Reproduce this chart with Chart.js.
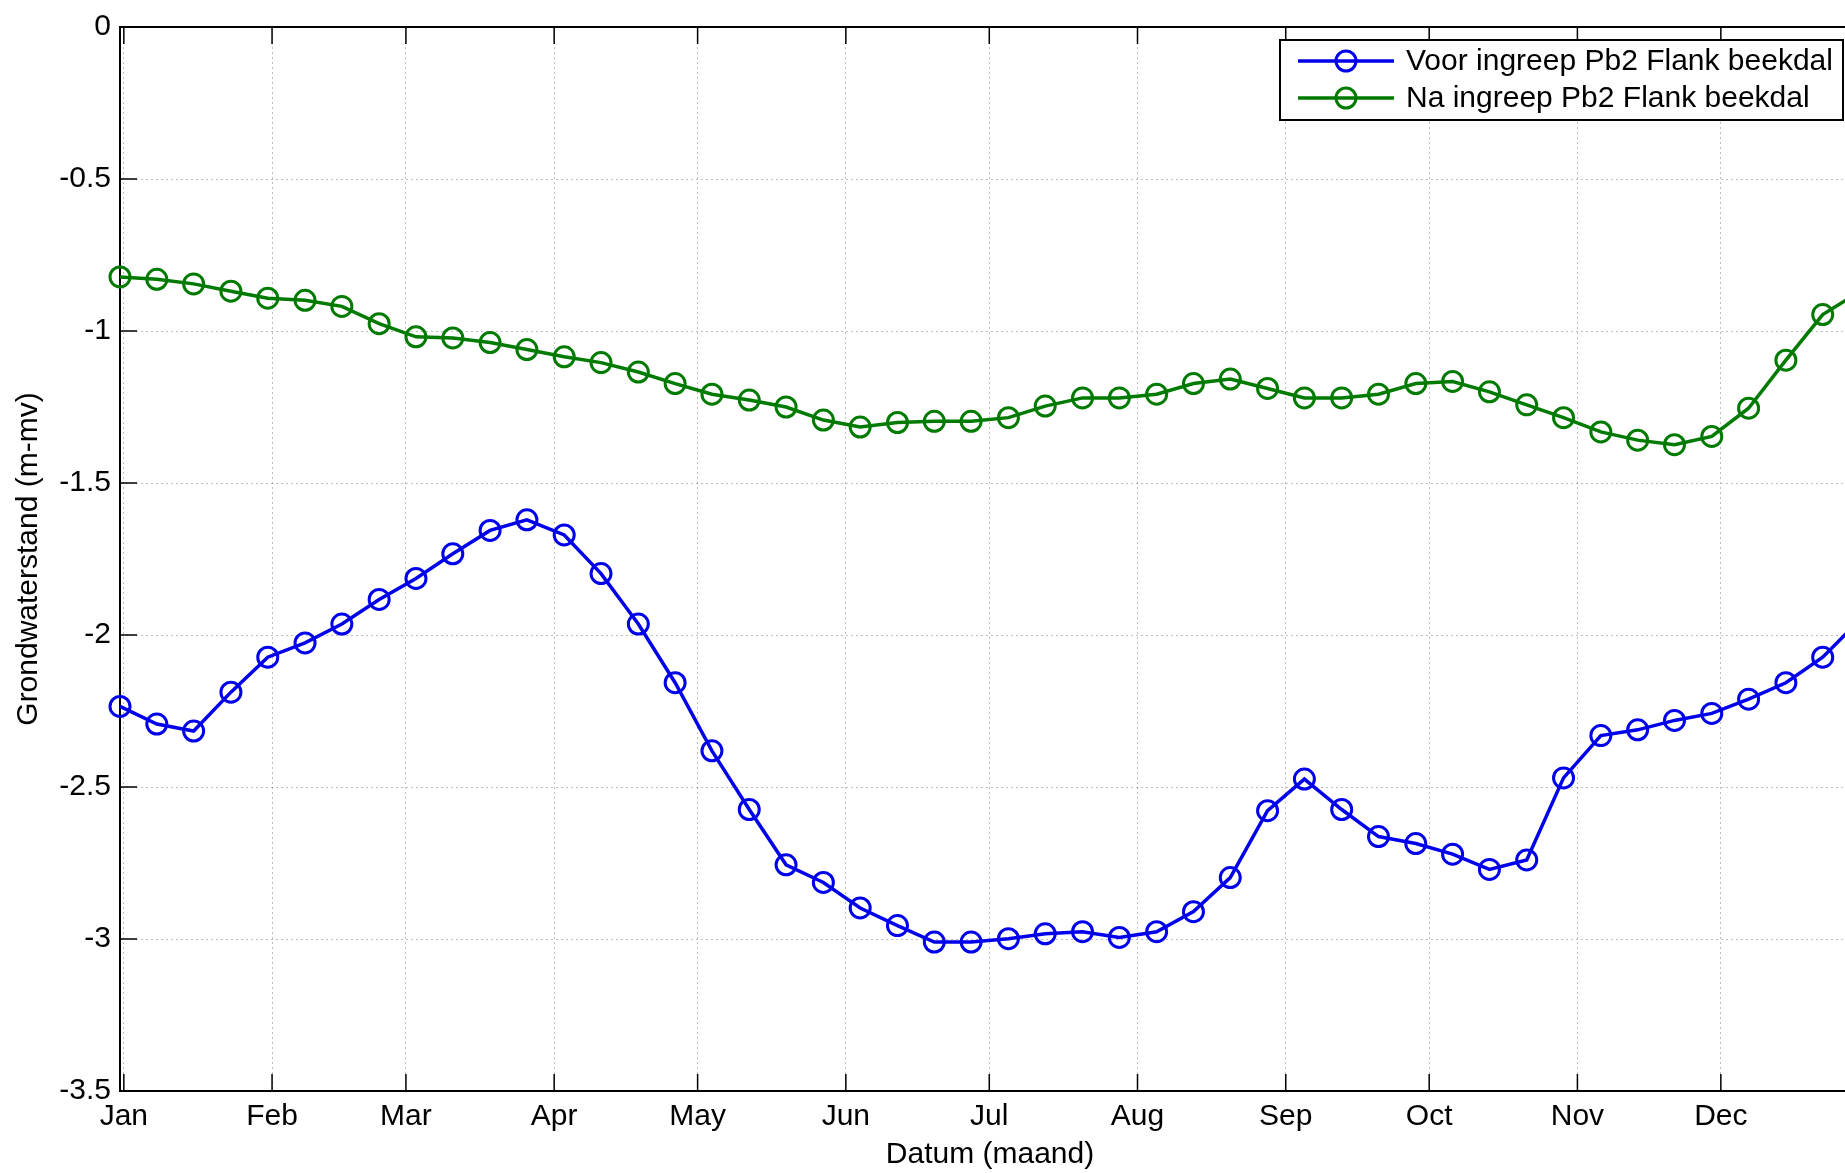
<!DOCTYPE html>
<html>
<head>
<meta charset="utf-8">
<title>Grondwaterstand</title>
<script src="https://cdn.jsdelivr.net/npm/chart.js@4.4.0/dist/chart.umd.min.js"></script>
<style>
html, body { margin: 0; padding: 0; background: #fff; overflow: hidden; }
#wrap { width: 1845px; height: 1173px; overflow: hidden; }
</style>
</head>
<body>
<div id="wrap"><canvas id="myChart" width="1873" height="1173"></canvas></div>
<script>
// dag in het jaar (1 jan = 0) van elk meetpunt
var dagen = [-0.8, 6.9, 14.6, 22.4, 30.1, 37.9, 45.6, 53.4, 61.1, 68.8, 76.6, 84.3,
             92.1, 99.8, 107.6, 115.3, 123.0, 130.8, 138.5, 146.3, 154.0, 161.8, 169.5, 177.2,
             185.0, 192.7, 200.5, 208.2, 216.0, 223.7, 231.4, 239.2, 246.9, 254.7, 262.4, 270.2,
             277.9, 285.6, 293.4, 301.1, 308.9, 316.6, 324.3, 332.1, 339.8, 347.6, 355.3, 363.1];

// grondwaterstand (m-mv)
var voor = [-2.235, -2.293, -2.316, -2.188, -2.073, -2.026, -1.964, -1.883, -1.814, -1.733, -1.656, -1.621,
            -1.671, -1.798, -1.964, -2.157, -2.381, -2.574, -2.756, -2.814, -2.898, -2.956, -3.010, -3.010,
            -2.999, -2.983, -2.976, -2.995, -2.976, -2.910, -2.798, -2.578, -2.474, -2.574, -2.663, -2.686,
            -2.721, -2.771, -2.740, -2.470, -2.331, -2.312, -2.281, -2.258, -2.211, -2.157, -2.073, -1.95];
var na = [-0.822, -0.830, -0.845, -0.869, -0.892, -0.899, -0.919, -0.976, -1.019, -1.023, -1.038, -1.061,
          -1.085, -1.104, -1.135, -1.173, -1.208, -1.227, -1.250, -1.293, -1.316, -1.301, -1.297, -1.297,
          -1.285, -1.247, -1.220, -1.220, -1.208, -1.173, -1.158, -1.189, -1.220, -1.220, -1.208, -1.173,
          -1.166, -1.200, -1.243, -1.285, -1.332, -1.359, -1.374, -1.347, -1.254, -1.096, -0.946, -0.87];

var maandStart = [0, 31, 59, 90, 120, 151, 181, 212, 243, 273, 304, 334];
var maanden = ["Jan", "Feb", "Mar", "Apr", "May", "Jun", "Jul", "Aug", "Sep", "Oct", "Nov", "Dec"];

var labelVoor = "Voor ingreep Pb2 Flank beekdal";
var labelNa = "Na ingreep Pb2 Flank beekdal";

function punten(ys) {
  var out = [];
  for (var i = 0; i < ys.length; i++) out.push({x: dagen[i], y: ys[i]});
  return out;
}

Chart.defaults.font.family = "'Liberation Sans', Arial, sans-serif";
Chart.defaults.font.size = 30;
Chart.defaults.color = '#000';

// matlab-achtige box, ticks naar binnen en legenda
var matlabBox = {
  id: 'matlabBox',
  afterDraw: function(chart) {
    var ctx = chart.ctx, a = chart.chartArea;
    var xs = chart.scales.x, ys = chart.scales.y;
    ctx.save();
    ctx.strokeStyle = '#000';
    ctx.lineWidth = 2;
    ctx.beginPath();
    ctx.moveTo(a.left, a.top);
    ctx.lineTo(a.right, a.top);
    ctx.lineTo(a.right, a.bottom);
    ctx.stroke();

    ctx.lineWidth = 1.5;
    maandStart.forEach(function(d) {
      var px = xs.getPixelForValue(d);
      ctx.beginPath();
      ctx.moveTo(px, a.bottom); ctx.lineTo(px, a.bottom - 17);
      ctx.moveTo(px, a.top); ctx.lineTo(px, a.top + 17);
      ctx.stroke();
    });
    ys.ticks.forEach(function(t) {
      var py = ys.getPixelForValue(t.value);
      ctx.beginPath();
      ctx.moveTo(a.left, py); ctx.lineTo(a.left + 17, py);
      ctx.stroke();
    });

    // legenda
    var lx = 1280, ly = 40, lw = 563, lh = 80;
    ctx.fillStyle = '#fff';
    ctx.fillRect(lx, ly, lw, lh);
    ctx.lineWidth = 2;
    ctx.strokeRect(lx, ly, lw, lh);
    ctx.font = "30px 'Liberation Sans', Arial, sans-serif";
    ctx.textBaseline = 'middle';
    ctx.textAlign = 'left';
    chart.data.datasets.forEach(function(ds, i) {
      var ry = ly + 21 + i * 37;
      ctx.strokeStyle = ds.borderColor;
      ctx.lineWidth = 3.5;
      ctx.beginPath();
      ctx.moveTo(lx + 18, ry); ctx.lineTo(lx + 114, ry);
      ctx.stroke();
      ctx.lineWidth = 3;
      ctx.beginPath();
      ctx.arc(lx + 66, ry, 10, 0, Math.PI * 2);
      ctx.stroke();
      ctx.fillStyle = '#000';
      ctx.fillText(ds.label, lx + 126, ry + 1);
    });
    ctx.restore();
  }
};

var ctx = document.getElementById('myChart');
var chart = new Chart(ctx, {
  type: 'line',
  data: {
    datasets: [{
      label: labelVoor,
      data: punten(voor),
      borderColor: 'rgb(0, 0, 235)',
      backgroundColor: 'rgba(0,0,0,0)',
      borderWidth: 3.5,
      pointRadius: 10,
      pointBorderWidth: 3,
      pointBackgroundColor: 'rgba(0,0,0,0)',
      pointBorderColor: 'rgb(0, 0, 235)',
      tension: 0,
      clip: false
    }, {
      label: labelNa,
      data: punten(na),
      borderColor: 'rgb(0, 122, 0)',
      backgroundColor: 'rgba(0,0,0,0)',
      borderWidth: 3.5,
      pointRadius: 10,
      pointBorderWidth: 3,
      pointBackgroundColor: 'rgba(0,0,0,0)',
      pointBorderColor: 'rgb(0, 122, 0)',
      tension: 0,
      clip: false
    }]
  },
  options: {
    responsive: false,
    animation: false,
    layout: { padding: { top: 22, right: 2, bottom: 0, left: 0 } },
    plugins: {
      legend: { display: false },
      tooltip: { enabled: false }
    },
    scales: {
      x: {
        type: 'linear',
        min: -0.8,
        max: 363.1,
        afterBuildTicks: function(scale) {
          scale.ticks = maandStart.map(function(d) { return {value: d}; });
        },
        afterFit: function(scale) { scale.height = 82; },
        ticks: {
          padding: 8,
          maxRotation: 0,
          autoSkip: false,
          callback: function(value, index) { return maanden[index]; }
        },
        grid: { color: 'rgba(0,0,0,0.25)', lineWidth: 1, drawTicks: false },
        border: { display: true, color: '#000', width: 2, dash: [2, 3] },
        title: { display: true, text: 'Datum (maand)', padding: { top: 0, bottom: 0 } }
      },
      y: {
        min: -3.5,
        max: 0,
        afterFit: function(scale) { scale.width = 120; },
        ticks: {
          stepSize: 0.5,
          padding: 9,
          callback: function(value) { return String(Math.round(value * 10) / 10); }
        },
        grid: { color: 'rgba(0,0,0,0.25)', lineWidth: 1, drawTicks: false },
        border: { display: true, color: '#000', width: 2, dash: [2, 3] },
        title: { display: true, text: 'Grondwaterstand (m-mv)', padding: { top: 11, bottom: 0 } }
      }
    }
  },
  plugins: [matlabBox]
});
</script>
</body>
</html>
